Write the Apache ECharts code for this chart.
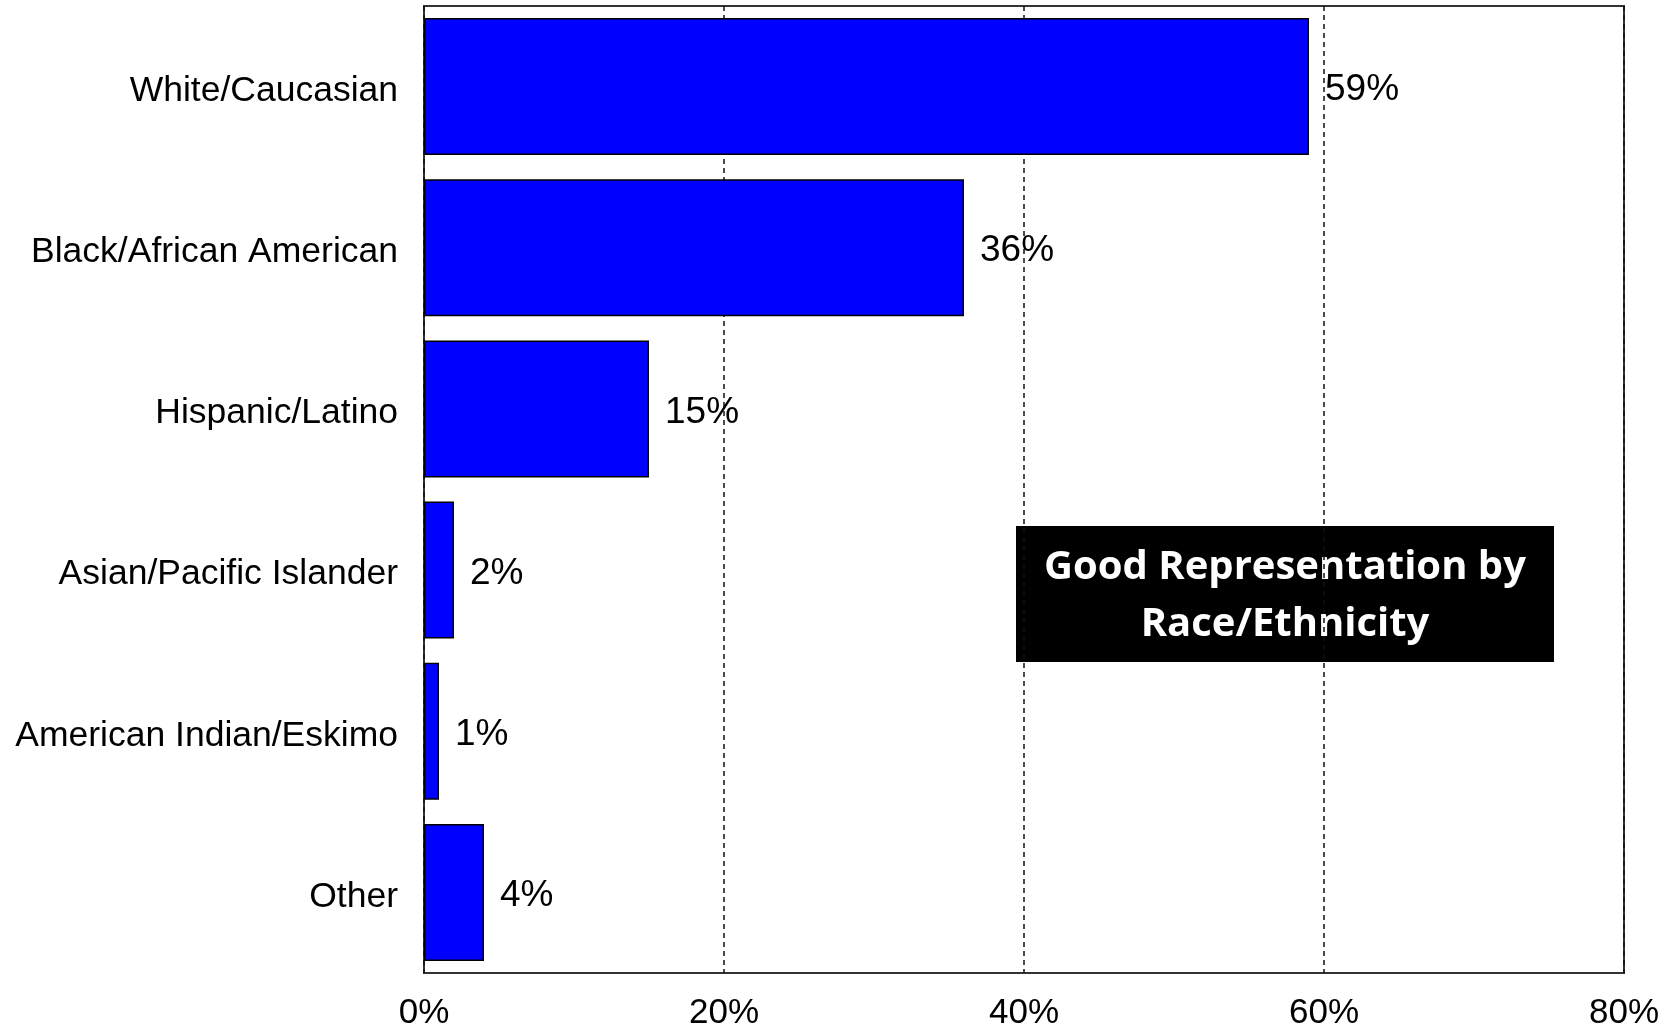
<!DOCTYPE html>
<html>
<head>
<meta charset="utf-8">
<title>Good Representation by Race/Ethnicity</title>
<script src="https://cdn.jsdelivr.net/npm/echarts@6/dist/echarts.min.js"></script>
<style>
  html, body { margin: 0; padding: 0; background: #ffffff; }
  #chart { width: 1668px; height: 1028px; }
</style>
</head>
<body>
<div id="chart"></div>
<script>
// Share of respondents (percent) by race/ethnicity, top to bottom
const categories = [
  'White/Caucasian',
  'Black/African American',
  'Hispanic/Latino',
  'Asian/Pacific Islander',
  'American Indian/Eskimo',
  'Other'
];
const percents = [59, 36, 15, 2, 1, 4];
const axisTicks = [0, 20, 40, 60, 80];
const boxTitle = ['Good Representation by', 'Race/Ethnicity'];

const chart = echarts.init(document.getElementById('chart'), null, { renderer: 'canvas' });

const labelFont = '"Liberation Sans", Arial, sans-serif';

chart.setOption({
  animation: false,
  backgroundColor: '#ffffff',
  grid: {
    left: 424,
    right: 44,
    top: 6,
    bottom: 55,
    outerBoundsMode: 'none',
    show: true,
    backgroundColor: '#ffffff',
    borderColor: '#333333',
    borderWidth: 2
  },
  xAxis: {
    type: 'value',
    min: axisTicks[0],
    max: axisTicks[axisTicks.length - 1],
    interval: axisTicks[1] - axisTicks[0],
    axisLine: { show: false },
    axisTick: { show: false },
    axisLabel: {
      formatter: v => v + '%',
      fontFamily: labelFont,
      fontSize: 35,
      color: '#000000',
      margin: 23
    },
    splitLine: {
      show: true,
      lineStyle: { color: '#111111', width: 1.5, type: [5, 4] }
    }
  },
  yAxis: {
    type: 'category',
    data: categories,
    inverse: true,
    axisLine: { show: false },
    axisTick: { show: false },
    splitLine: { show: false },
    axisLabel: {
      fontFamily: labelFont,
      fontSize: 35.5,
      color: '#000000',
      margin: 26,
      // a short line box anchored at its top sits the text a few px below the band centre
      verticalAlign: 'top',
      lineHeight: 9
    }
  },
  series: [{
    type: 'bar',
    data: percents,
    barCategoryGap: '15%',
    itemStyle: {
      color: '#0000ff',
      borderColor: '#000000',
      borderWidth: 1.5
    },
    label: {
      show: true,
      position: 'right',
      distance: 16,
      offset: [0, 3.5],
      formatter: p => p.value + '%',
      fontFamily: labelFont,
      fontSize: 37,
      color: '#000000'
    }
  }],
  graphic: [{
    type: 'group',
    left: 1016,
    top: 526,
    children: [{
      type: 'rect',
      shape: { x: 0, y: 0, width: 538, height: 136 },
      style: { fill: '#000000' }
    }, {
      type: 'text',
      x: 269,
      y: 70,
      style: {
        text: boxTitle.join('\n'),
        fill: '#ffffff',
        font: 'bold 40px "Open Sans", sans-serif',
        lineHeight: 57,
        align: 'center',
        verticalAlign: 'middle'
      }
    }]
  }]
});
</script>
</body>
</html>
